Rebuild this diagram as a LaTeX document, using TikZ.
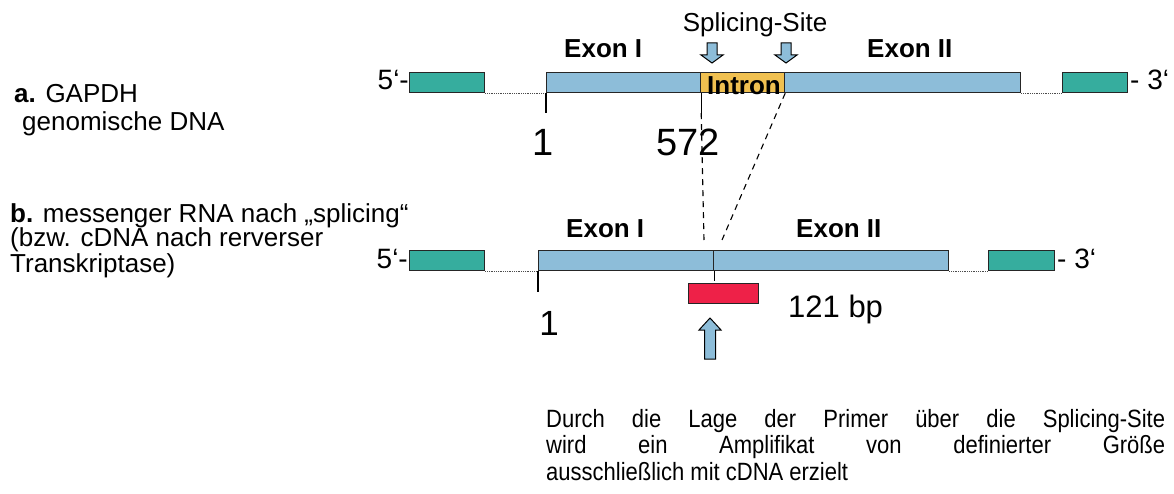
\documentclass[tikz,border=0pt]{standalone}
\usepackage{fontspec}
\setmainfont{Liberation Sans}
\newfontfamily\narrowsans[FakeStretch=0.88]{Liberation Sans}
\definecolor{flankgreen}{HTML}{36AD9E}
\definecolor{exonblue}{HTML}{8DBDD9}
\definecolor{intronyellow}{HTML}{F0C050}
\definecolor{primerred}{HTML}{EE2148}
\tikzset{
  dnabox/.style={draw=black!85, line width=1.2pt, inner sep=0pt, minimum height=20pt, anchor=north west},
  gbox/.style={dnabox, fill=flankgreen},
  bbox/.style={dnabox, fill=exonblue},
  ybox/.style={dnabox, fill=intronyellow},
  rbox/.style={dnabox, fill=primerred},
  arrst/.style={draw=black, line width=1pt, fill=exonblue},
  downarr/.pic={\draw[arrst] (-5,0) -- (5,0) -- (5,12) -- (11,12) -- (0,20) -- (-11,12) -- (-5,12) -- cycle;},
  uparr/.pic={\draw[arrst] (-5.5,41) -- (5.5,41) -- (5.5,12) -- (11,12) -- (0,0) -- (-11,12) -- (-5.5,12) -- cycle;}
}
\begin{document}
\begin{tikzpicture}[x=1pt, y=-1pt,
    dotln/.style={densely dotted, line width=0.8pt, black!70},
    tickln/.style={line width=1.2pt},
    splice/.style={dash pattern=on 6pt off 5pt, line width=1.1pt},
    lbl/.style={inner sep=0pt, anchor=base west},
    big/.style={font=\fontsize{26}{28}\selectfont},
    bold/.style={font=\bfseries\fontsize{26}{30}\selectfont},
    num/.style={font=\fontsize{38}{40}\selectfont}]
  \useasboundingbox (0,0) rectangle (1174,494);

  % a. genomic DNA
  \node[gbox, minimum width=75pt] (g1a) at (409,72) {};
  \node[bbox, minimum width=154pt] (e1a) at (546,72) {};
  \node[ybox, minimum width=84pt] (ina) at (700,72) {};
  \node[bbox, minimum width=236pt] (e2a) at (784,72) {};
  \node[gbox, minimum width=65pt] (g2a) at (1062,72) {};
  \draw[dotln] (g1a.south east) -- (e1a.south west);
  \draw[dotln] (e2a.south east) -- (g2a.south west);
  \draw[tickln] (e1a.south west) -- ++(0,20);
  \draw[tickln] (e1a.south east) -- ++(0,20) coordinate (cut1);

  \node[lbl, font=\fontsize{28}{30}\selectfont, anchor=base east] (fivea) at (409,90) {5‘-};
  \node[lbl, font=\fontsize{28}{30}\selectfont] (threea) at (1130,90) {- 3‘};
  \node[lbl, bold] (lex1a) at (564,58) {Exon I};
  \node[lbl, bold] (lex2a) at (867,58) {Exon II};
  \node[lbl, bold, anchor=base] (lin) at (744,95) {Intron};
  \node[lbl, big, anchor=base] (site) at (755,32) {Splicing-Site};
  \pic at (712,43) {downarr};
  \pic at (786,43) {downarr};
  \node[lbl, num, anchor=base] (onea) at (543,156) {1};
  \node[lbl, num, anchor=base] (pos) at (688,156) {572};

  \node[lbl, big, align=left] (laba) at (14,131) {\textbf{a.} GAPDH\\\hspace*{8pt}genomische DNA};

  % b. mRNA / cDNA
  \node[gbox, minimum width=75pt] (g1b) at (409,250) {};
  \node[bbox, minimum width=175pt] (e1b) at (538,250) {};
  \node[bbox, minimum width=235pt] (e2b) at (713,250) {};
  \node[gbox, minimum width=66pt] (g2b) at (988,250) {};
  \draw[dotln] (g1b.south east) -- (e1b.south west);
  \draw[dotln] (e2b.south east) -- (g2b.south west);
  \draw[tickln] (e1b.south west) -- ++(0,21);
  \draw[tickln] (e1b.south east) -- ++(0,10);

  \coordinate (jl) at (704,240);
  \coordinate (jr) at (722,240);
  \draw[splice] (cut1) -- (jl);
  \draw[splice] (ina.south east) -- (jr);

  \node[lbl, font=\fontsize{28}{30}\selectfont, anchor=base east] (fiveb) at (408,269) {5‘-};
  \node[lbl, font=\fontsize{28}{30}\selectfont] (threeb) at (1057,269) {- 3‘};
  \node[lbl, bold] (lex1b) at (566,238) {Exon I};
  \node[lbl, bold] (lex2b) at (796,238) {Exon II};

  \node[rbox, minimum width=70pt] (primer) at (688,283) {};
  \node[lbl, font=\fontsize{31}{33}\selectfont] (size) at (788,317) {121 bp};
  \node[lbl, font=\fontsize{35}{37}\selectfont, anchor=base] (oneb) at (549,335) {1};
  \pic at (710,318) {uparr};

  \node[lbl, font=\fontsize{26}{25}\selectfont, align=left] (labb) at (10,272)
    {\textbf{b.} messenger RNA nach „splicing“\\(bzw. cDNA nach rerverser\\Transkriptase)};

  % note
  \node[lbl, font=\narrowsans\fontsize{25}{26.5}\selectfont, align=left] (note) at (546,480)
    {\makebox[619pt][s]{Durch die Lage der Primer über die Splicing-Site}\\
     \makebox[619pt][s]{wird ein Amplifikat von definierter Größe}\\
     ausschließlich mit cDNA erzielt};
\end{tikzpicture}
\end{document}
